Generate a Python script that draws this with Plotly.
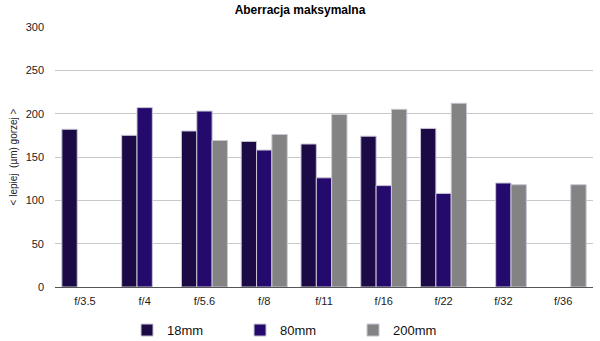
import plotly.graph_objects as go

categories = ["f/3.5", "f/4", "f/5.6", "f/8", "f/11", "f/16", "f/22", "f/32", "f/36"]
series_names = ["18mm", "80mm", "200mm"]
values_18 = [182, 175, 180, 168, 165, 174, 183, None, None]
values_80 = [None, 207, 203, 158, 126, 117, 108, 120, None]
values_200 = [None, None, 169, 176, 199, 205, 212, 118, 118]
colors = ["#1b0a46", "#250a6e", "#838383"]
y_ticks = [0, 50, 100, 150, 200, 250, 300]

fig = go.Figure()
for name, vals, col in zip(series_names, [values_18, values_80, values_200], colors):
    fig.add_trace(go.Bar(
        x=categories, y=vals, name=name,
        marker=dict(color=col, line=dict(color="#c9c6d4", width=1)),
    ))

font = "Liberation Sans, Arial, sans-serif"
fig.update_layout(
    width=600, height=341,
    margin=dict(l=55, r=7, t=27, b=54),
    paper_bgcolor="white", plot_bgcolor="white",
    barmode="group", bargap=0.23, bargroupgap=0.0,
    font=dict(family=font, size=11, color="#222222"),
    title=dict(text="<b>Aberracja maksymalna</b>", x=0.5, xanchor="center",
               y=0.985, yanchor="top", font=dict(size=12, color="#000000")),
    legend=dict(orientation="h", xref="container", yref="container",
                x=0.2117, xanchor="left", y=0.032, yanchor="middle",
                font=dict(size=13, color="#111111"), entrywidth=68, entrywidthmode="pixels",
                itemwidth=30, traceorder="normal"),
    yaxis=dict(range=[0, 300], tickvals=y_ticks, gridcolor="#c8c8c8", gridwidth=1,
               showline=False, zeroline=False, ticks="", ticklabelstandoff=10,
               tickfont=dict(size=11, color="#222222"),
               title=dict(text="< lepiej  (µm) gorzej >", font=dict(size=10, color="#222222"), standoff=6)),
    xaxis=dict(showline=True, linecolor="#555555", linewidth=1, ticks="",
               tickfont=dict(size=11, color="#222222"), ticklabelstandoff=4),
)

fig.write_html("out.html")
